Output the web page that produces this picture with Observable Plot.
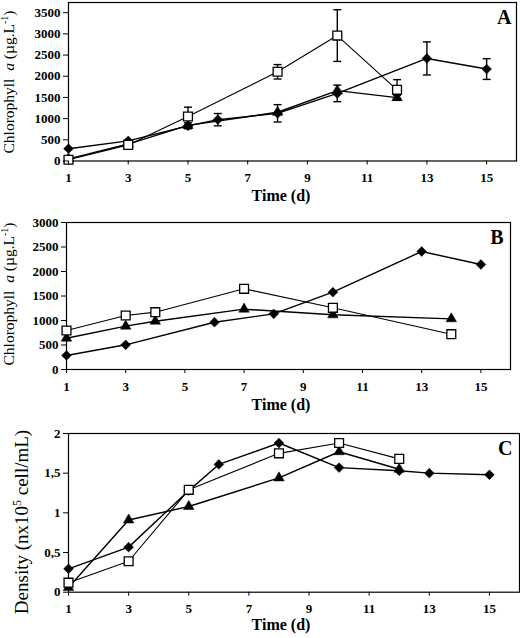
<!DOCTYPE html>
<html>
<head>
<meta charset="utf-8">
<script src="https://cdn.jsdelivr.net/npm/d3@7"></script>
<script src="https://cdn.jsdelivr.net/npm/@observablehq/plot@0.6"></script>
<style>
  body { margin: 0; background: #fff; }
  #chart svg { display: block; }
</style>
</head>
<body>
<div id="chart"></div>
<script>
// ---------- shared ----------
const xTicks = [1, 3, 5, 7, 9, 11, 13, 15];
const xLabel = "Time (d)";

// ---------- Panel A : Chlorophyll a with SD ----------
const dayA_dia = [1, 3, 5, 6, 8, 10, 13, 15];
const chlA_dia = [290, 475, 830, 975, 1125, 1595, 2420, 2170];
const sdA_dia  = [0, 0, 70, 145, 205, 195, 390, 245];
const dayA_tri = [1, 3, 5, 8, 10, 12];
const chlA_tri = [50, 400, 840, 1150, 1660, 1495];
const sdA_tri  = [0, 0, 0, 0, 0, 55];
const dayA_sq  = [1, 3, 5, 8, 10, 12];
const chlA_sq  = [30, 380, 1050, 2105, 2960, 1680];
const sdA_sq   = [0, 0, 220, 170, 610, 240];
const yTicksA  = [0, 500, 1000, 1500, 2000, 2500, 3000, 3500];

// ---------- Panel B : Chlorophyll a ----------
const dayB_dia = [1, 3, 6, 8, 10, 13, 15];
const chlB_dia = [286, 504, 965, 1136, 1578, 2408, 2143];
const dayB_tri = [1, 3, 4, 7, 10, 14];
const chlB_tri = [639, 884, 986, 1231, 1116, 1034];
const dayB_sq  = [1, 3, 4, 7, 10, 14];
const chlB_sq  = [796, 1102, 1170, 1647, 1259, 721];
const yTicksB  = [0, 500, 1000, 1500, 2000, 2500, 3000];

// ---------- Panel C : Density ----------
const dayC_dia = [1, 3, 5, 6, 8, 10, 12, 13, 15];
const denC_dia = [0.295, 0.568, 1.28, 1.61, 1.88, 1.57, 1.53, 1.50, 1.48];
const dayC_tri = [1, 3, 5, 8, 10, 12];
const denC_tri = [0.06, 0.91, 1.08, 1.44, 1.77, 1.55];
const dayC_sq  = [1, 3, 5, 8, 10, 12];
const denC_sq  = [0.12, 0.39, 1.29, 1.75, 1.88, 1.68];
const yTicksC  = [0, 0.5, 1, 1.5, 2];

// ---------- helpers ----------
const FONT = "'Liberation Serif', 'Times New Roman', serif";
const capSymbol = {
  draw(ctx, size) {
    const w = Math.sqrt(size) / 2;
    ctx.moveTo(-w, 0);
    ctx.lineTo(w, 0);
  }
};
const styles = {
  diamond:  {symbol: "diamond2", r: 4.4, fill: "black", stroke: "black", strokeWidth: 0.5},
  triangle: {symbol: "triangle", r: 3.9, fill: "black", stroke: "black", strokeWidth: 0.5},
  square:   {symbol: "square",   r: 5.0, fill: "white", stroke: "black", strokeWidth: 1.3}
};

function rows(days, vals, sds, kind) {
  return days.map((d, i) => ({day: d, v: vals[i], sd: sds ? sds[i] : 0, kind}));
}

function panel(cfg) {
  const series = cfg.series;
  const marks = [Plot.frame({stroke: "black", strokeWidth: 1.2})];
  // error bars
  for (const s of series) {
    const eb = s.data.filter(d => d.sd > 0);
    if (!eb.length) continue;
    marks.push(Plot.ruleX(eb, {x: "day", y1: d => d.v - d.sd, y2: d => d.v + d.sd, stroke: "black", strokeWidth: 1.4}));
    marks.push(Plot.dot(eb, {x: "day", y: d => d.v + d.sd, symbol: capSymbol, r: 4.5, fill: "none", stroke: "black", strokeWidth: 1.4}));
    marks.push(Plot.dot(eb, {x: "day", y: d => d.v - d.sd, symbol: capSymbol, r: 4.5, fill: "none", stroke: "black", strokeWidth: 1.4}));
  }
  // lines
  for (const s of series) {
    marks.push(Plot.line(s.data, {x: "day", y: "v", stroke: "black", strokeWidth: s.kind === "square" ? 1.1 : 1.4}));
  }
  // markers
  for (const s of series) {
    marks.push(Plot.dot(s.data, {x: "day", y: "v", ...styles[s.kind]}));
  }
  // axes
  marks.push(Plot.axisY({ticks: cfg.yTicks, tickSize: 5, tickPadding: 3, tickFormat: cfg.yFormat, label: null}));
  marks.push(Plot.axisX({ticks: xTicks, tickSize: 4, tickPadding: 8, label: null}));
  // panel letter
  marks.push(Plot.text([cfg.letter], {text: d => d, frameAnchor: "top-right", textAnchor: "end", lineAnchor: "top",
    dx: cfg.letterDx, dy: 7, fontSize: 20, fontWeight: "bold"}));

  const svg = Plot.plot({
    width: 520,
    height: cfg.height,
    marginTop: cfg.mt, marginBottom: cfg.mb, marginLeft: cfg.ml, marginRight: cfg.mr,
    x: {domain: [1, 16]},
    y: {domain: cfg.yDomain},
    style: {fontFamily: FONT, fontSize: "13px", fontWeight: "bold", background: "white", color: "black"},
    marks
  });

  const sel = d3.select(svg);
  // x axis title
  sel.append("text")
    .attr("x", 281)
    .attr("y", cfg.height - cfg.mb + cfg.xLabelOff)
    .attr("text-anchor", "middle")
    .attr("font-size", 16)
    .attr("font-weight", "bold")
    .attr("fill", "black")
    .text(xLabel);
  // y axis title
  const t = sel.append("text")
    .attr("transform", `translate(${cfg.yLabelX},${cfg.yLabelY}) rotate(-90)`)
    .attr("text-anchor", "middle")
    .attr("font-size", cfg.yLabelSize)
    .attr("font-weight", "normal")
    .attr("fill", "black");
  cfg.yLabel(t);
  return svg;
}

function chlLabel(t) {
  t.append("tspan").text("Chlorophyll\u00A0\u00A0");
  t.append("tspan").attr("font-style", "italic").text("a");
  t.append("tspan").text(" (\u00B5g.L");
  t.append("tspan").attr("font-size", 10).attr("dy", -6).text("-1");
  t.append("tspan").attr("dy", 6).text(")");
}
function denLabel(t) {
  t.append("tspan").text("Density (nx10");
  t.append("tspan").attr("font-size", 12).attr("dy", -7).text("5");
  t.append("tspan").attr("dy", 7).text(" cell/mL)");
}

const root = document.getElementById("chart");

root.appendChild(panel({
  height: 212, mt: 2, mb: 51.5, ml: 68, mr: 4,
  yDomain: [0, 3740], yTicks: yTicksA, yFormat: d => String(d),
  letter: "A", letterDx: -5,
  xLabelOff: 40.5, yLabelX: 14, yLabelY: 82, yLabelSize: 15.5, yLabel: chlLabel,
  series: [
    {kind: "diamond",  data: rows(dayA_dia, chlA_dia, sdA_dia, "diamond")},
    {kind: "triangle", data: rows(dayA_tri, chlA_tri, sdA_tri, "triangle")},
    {kind: "square",   data: rows(dayA_sq,  chlA_sq,  sdA_sq,  "square")}
  ]
}));

root.appendChild(panel({
  height: 208, mt: 10, mb: 51, ml: 66, mr: 10,
  yDomain: [0, 3000], yTicks: yTicksB, yFormat: d => String(d),
  letter: "B", letterDx: -7,
  xLabelOff: 41, yLabelX: 14, yLabelY: 82, yLabelSize: 15.5, yLabel: chlLabel,
  series: [
    {kind: "diamond",  data: rows(dayB_dia, chlB_dia, null, "diamond")},
    {kind: "triangle", data: rows(dayB_tri, chlB_tri, null, "triangle")},
    {kind: "square",   data: rows(dayB_sq,  chlB_sq,  null, "square")}
  ]
}));

root.appendChild(panel({
  height: 218, mt: 13, mb: 46.3, ml: 68, mr: 1,
  yDomain: [0, 2], yTicks: yTicksC, yFormat: d => String(d).replace(".", ","),
  letter: "C", letterDx: -7,
  xLabelOff: 38.5, yLabelX: 28, yLabelY: 102, yLabelSize: 19, yLabel: denLabel,
  series: [
    {kind: "diamond",  data: rows(dayC_dia, denC_dia, null, "diamond")},
    {kind: "triangle", data: rows(dayC_tri, denC_tri, null, "triangle")},
    {kind: "square",   data: rows(dayC_sq,  denC_sq,  null, "square")}
  ]
}));
</script>
</body>
</html>
